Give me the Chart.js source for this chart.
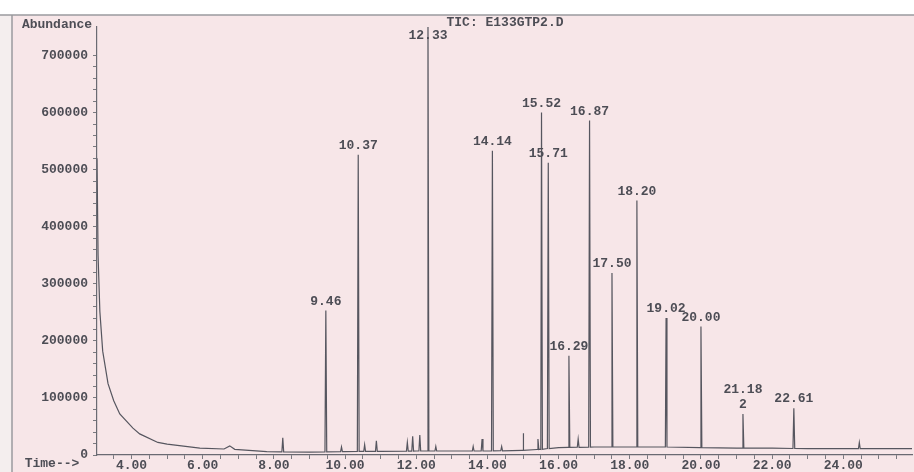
<!DOCTYPE html>
<html>
<head>
<meta charset="utf-8">
<title>TIC: E133GTP2.D</title>
<script src="https://cdn.jsdelivr.net/npm/chart.js@4.4.0/dist/chart.umd.min.js"></script>
<style>
  body { margin: 0; background: #fff; }
  #wrap { width: 914px; height: 472px; position: relative; }
</style>
</head>
<body>
<div id="wrap"><canvas id="tic"></canvas></div>
<script>
// labelled peaks: retention time (min) and abundance at the apex
const peakTimes = [9.46, 10.37, 12.33, 14.14, 15.52, 15.71, 16.29, 16.87, 17.50, 18.20, 19.02, 20.00, 21.18, 22.61];
const peakHeights = [253000, 526000, 760000, 533000, 600000, 512000, 174000, 586000, 319000, 446000, 240000, 225000, 72000, 82000];
const peakLabels = [["9.46"], ["10.37"], ["12.33"], ["14.14"], ["15.52"], ["15.71"], ["16.29"], ["16.87"], ["17.50"], ["18.20"], ["19.02"], ["20.00"], ["21.18", "2"], ["22.61"]];

// small unlabelled spikes on the baseline
const minorTimes = [8.25, 9.9, 10.55, 10.88, 11.75, 11.9, 12.1, 12.55, 13.6, 13.85, 14.4, 15.0, 15.42, 16.55, 24.45];
const minorHeights = [30000, 14000, 18000, 25000, 22000, 33000, 35000, 15000, 15000, 28000, 15000, 38000, 28000, 28000, 22000];

// solvent tail + baseline
const baseTimes = [3.03, 3.06, 3.11, 3.19, 3.34, 3.5, 3.67, 4.04, 4.23, 4.74, 5.0, 5.92, 6.6, 6.76, 6.9, 7.8, 8.2, 9.0, 10.0, 11.0, 12.0, 13.0, 14.0, 15.0, 15.5, 16.0, 17.0, 18.0, 19.0, 20.0, 21.0, 22.0, 23.0, 24.0, 25.0, 25.93];
const baseValues = [520000, 350000, 252000, 182000, 125000, 95000, 72000, 47000, 37000, 22000, 19000, 12000, 10500, 16000, 10000, 6000, 5500, 5000, 6000, 6500, 7000, 7000, 7000, 8000, 10000, 13000, 14000, 14000, 14000, 13000, 12000, 12000, 11000, 11000, 11000, 11000];

const xTickValues = [4, 6, 8, 10, 12, 14, 16, 18, 20, 22, 24];
const yTickValues = [0, 100000, 200000, 300000, 400000, 500000, 600000, 700000];

const FONT = "Liberation Mono";
const INK = "#4d4d55";

function baseAt(t) {
  for (var i = 1; i < baseTimes.length; i++) {
    if (t <= baseTimes[i]) {
      var f = (t - baseTimes[i - 1]) / (baseTimes[i] - baseTimes[i - 1]);
      return baseValues[i - 1] + f * (baseValues[i] - baseValues[i - 1]);
    }
  }
  return baseValues[baseValues.length - 1];
}

// build the trace: baseline points plus a narrow spike for every peak
var trace = baseTimes.map((t, i) => ({ x: t, y: baseValues[i] }));
function addSpike(t, h) {
  var b = baseAt(t);
  trace.push({ x: t - 0.025, y: b }, { x: t, y: h }, { x: t + 0.025, y: b });
}
peakTimes.forEach((t, i) => addSpike(t, peakHeights[i]));
minorTimes.forEach((t, i) => addSpike(t, minorHeights[i]));
trace.sort((a, b) => a.x - b.x);

// tick marks: labelled major ticks plus unlabelled minor ones
function minorTicks(major, parts) {
  var out = [];
  for (var i = 0; i < major.length; i++) {
    out.push({ value: major[i], major: true });
    if (i < major.length - 1) {
      var step = (major[i + 1] - major[i]) / parts;
      for (var k = 1; k < parts; k++) out.push({ value: major[i] + k * step });
    }
  }
  return out;
}

// paper background and scan frame
const paperPlugin = {
  id: "paper",
  beforeDraw(chart) {
    const c = chart.ctx;
    c.save();
    c.fillStyle = "#ffffff";
    c.fillRect(0, 0, chart.width, chart.height);
    c.fillStyle = "#f7e6e8";
    c.fillRect(12, 15, chart.width - 12, chart.height - 15);
    c.fillStyle = "#f4eeee";
    c.fillRect(0, 15, 12, chart.height - 15);
    c.strokeStyle = "#9a9a9e";
    c.lineWidth = 1.5;
    c.beginPath();
    c.moveTo(0, 15);
    c.lineTo(chart.width, 15);
    c.moveTo(12, 15);
    c.lineTo(12, chart.height);
    c.stroke();
    c.restore();
  },
};

// peak labels, title and axis captions
const labelPlugin = {
  id: "peakLabels",
  afterDraw(chart) {
    const c = chart.ctx;
    const xs = chart.scales.x;
    const ys = chart.scales.y;
    const area = chart.chartArea;
    c.save();
    c.fillStyle = INK;
    c.font = "bold 13px " + FONT;
    c.textAlign = "center";
    c.textBaseline = "middle";
    peakTimes.forEach((t, i) => {
      var px = xs.getPixelForValue(t);
      var top = Math.max(ys.getPixelForValue(peakHeights[i]), area.top);
      var lines = peakLabels[i];
      var y = Math.max(top - 9, area.top + 9);
      for (var k = lines.length - 1; k >= 0; k--) {
        c.fillText(lines[k], px, y);
        y -= 15;
      }
    });
    c.fillText("TIC: E133GTP2.D", 505, 23);
    c.fillText("Abundance", 57, 25);
    c.fillText("Time-->", 52, 464);
    c.restore();
  },
};

const ctx = document.getElementById("tic");

new Chart(ctx, {
  type: "line",
  data: {
    datasets: [
      {
        data: trace,
        borderColor: "#56565f",
        borderWidth: 1.2,
        pointRadius: 0,
        tension: 0,
        fill: false,
      },
    ],
  },
  options: {
    responsive: true,
    maintainAspectRatio: false,
    animation: false,
    layout: { padding: { top: 27, right: 2, left: 0, bottom: 0 } },
    plugins: {
      legend: { display: false },
      tooltip: { enabled: false },
    },
    scales: {
      x: {
        type: "linear",
        min: 3.03,
        max: 25.93,
        afterFit: (s) => { s.height = 17; },
        afterBuildTicks: (s) => {
          s.ticks = [{ value: 3.5 }].concat(minorTicks(xTickValues.concat([26]), 4)).filter((t) => t.value <= 25.93);
        },
        border: { color: "#6a6a72", width: 1.2 },
        grid: { drawOnChartArea: false, drawTicks: true, tickLength: 4, color: "#7a7a80" },
        ticks: {
          autoSkip: false,
          maxRotation: 0,
          padding: -1,
          color: INK,
          font: { family: FONT, size: 13, weight: "bold" },
          callback: (v) => (xTickValues.includes(v) ? v.toFixed(2) : ""),
        },
      },
      y: {
        min: 0,
        max: 750000,
        afterFit: (s) => { s.width = 97; },
        afterBuildTicks: (s) => {
          s.ticks = minorTicks(yTickValues, 5);
        },
        border: { color: "#6a6a72", width: 1.2 },
        grid: { drawOnChartArea: false, drawTicks: true, tickLength: 4, color: "#7a7a80" },
        ticks: {
          autoSkip: false,
          padding: 5,
          color: INK,
          font: { family: FONT, size: 13, weight: "bold" },
          callback: (v) => (yTickValues.includes(v) ? String(v) : ""),
        },
      },
    },
  },
  plugins: [paperPlugin, labelPlugin],
});
</script>
</body>
</html>
